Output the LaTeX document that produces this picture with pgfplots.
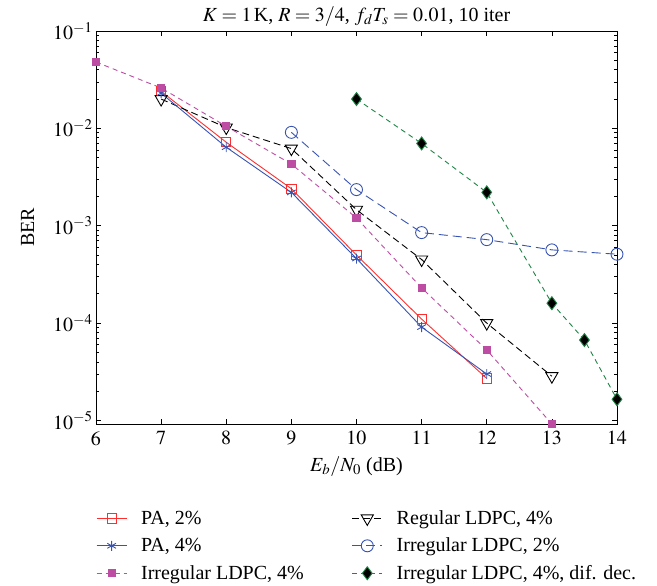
\documentclass[border=0pt]{standalone}
\usepackage{mathptmx}
\usepackage[no-math]{fontspec}
\setmainfont{Liberation Serif}
\usepackage{pgfplots}
\pgfplotsset{compat=1.18}
\definecolor{cred}{rgb}{1,0.18,0.18}
\definecolor{cblue}{rgb}{0.22,0.33,0.7}
\definecolor{cmag}{rgb}{0.74,0.3,0.64}
\definecolor{cgreen}{rgb}{0.12,0.52,0.28}
\begin{document}
\begin{tikzpicture}
\begin{axis}[
  name=ax,
  scale only axis,
  width=521pt, height=393pt,
  xmin=6, xmax=14,
  ymode=log, ymin=9.2e-6, ymax=0.1,
  xtick={6,7,...,14},
  ytick={1e-5,1e-4,1e-3,1e-2,1e-1},
  tick align=inside,
  major tick length=5pt, minor tick length=3pt,
  axis line style={line width=0.9pt},
  every tick/.style={line width=0.7pt},
  font=\fontsize{20}{23}\selectfont,
  title={$K = 1\,$K, $R = 3/4$, $f_d T_s = 0.01$, 10 iter},
  title style={yshift=-5pt},
  xlabel={$E_b/N_0$ (dB)},
  ylabel={BER},
  xticklabel style={yshift=-4pt},
  xlabel style={yshift=-4pt},
  ylabel style={yshift=12pt},
  legend style={at={(axis description cs:0.0,-0.21)}, anchor=north west, draw=none,
    font=\fontsize{20}{23}\selectfont, row sep=8pt, inner xsep=0pt,
    /tikz/every odd column/.append style={column sep=12pt},
    /tikz/every even column/.append style={column sep=46pt}},
  legend columns=2,
  legend cell align=left,
  legend image code/.code={\draw[mark repeat=2,mark phase=2] plot coordinates {(0pt,0pt)(15pt,0pt)(30pt,0pt)};},
  clip=false,
]
\addplot[cred, line width=0.9pt, mark=square, mark size=4.6pt, mark options={solid}] coordinates {
(7,0.024) (8,0.0072) (9,0.0024) (10,5.0e-4) (11,1.1e-4) (12,2.7e-5)};
\addlegendentry{PA, 2\%}
\addplot[black, line width=0.9pt, dash pattern=on 7pt off 4pt, mark=triangle, mark size=7pt, mark options={solid, rotate=180}] coordinates {
(7,0.020) (8,0.0102) (9,0.0062) (10,0.00146) (11,4.5e-4) (12,1.0e-4) (13,2.85e-5)};
\addlegendentry{Regular LDPC, 4\%}
\addplot[cblue, line width=0.9pt, mark=asterisk, mark size=5pt, mark options={solid}] coordinates {
(7,0.023) (8,0.0064) (9,0.0022) (10,4.6e-4) (11,9.1e-5) (12,3.0e-5)};
\addlegendentry{PA, 4\%}
\addplot[cblue, line width=0.9pt, dash pattern=on 9pt off 5pt, mark=o, mark size=6pt, mark options={solid}] coordinates {
(9,0.0091) (10,0.00235) (11,8.5e-4) (12,7.2e-4) (13,5.65e-4) (14,5.1e-4)};
\addlegendentry{Irregular LDPC, 2\%}
\addplot[cmag, line width=0.9pt, dash pattern=on 5pt off 4pt, mark=square*, mark size=3.6pt, mark options={solid}] coordinates {
(6,0.048) (7,0.026) (8,0.0105) (9,0.0043) (10,0.0012) (11,2.3e-4) (12,5.3e-5) (13,9.2e-6)};
\addlegendentry{Irregular LDPC, 4\%}
\addplot[cgreen, line width=0.9pt, dash pattern=on 5pt off 4pt, mark=diamond*, mark size=6.5pt, mark options={solid, fill=black, draw=cgreen}] coordinates {
(10,0.020) (11,0.0070) (12,0.0022) (13,1.6e-4) (13.5,6.7e-5) (14,1.65e-5)};
\addlegendentry{Irregular LDPC, 4\%, dif. dec.}
\end{axis}
\path (ax.south west) ++(-96pt,-161pt) rectangle ++(657pt,585pt);
\end{tikzpicture}
\end{document}
